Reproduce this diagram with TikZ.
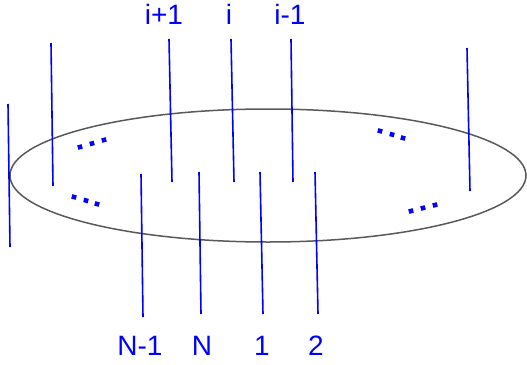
\documentclass[tikz,border=0pt]{standalone}
\usepackage{fontspec}
\setmainfont{Liberation Sans}
\begin{document}
\begin{tikzpicture}[x=1pt,y=-1pt,
  wire/.style={draw=blue,line width=1.6pt},
  ring/.style={draw=black!65,line width=1.5pt},
  lbl/.style={text=blue,font=\fontsize{28}{30}\selectfont,anchor=base,inner sep=0pt},
  dotsq/.style={fill=blue,draw=none,minimum size=4.6pt,inner sep=0pt,rectangle}]
\useasboundingbox (0,0) rectangle (527,364);
\draw[ring] (268,175.5) ellipse [x radius=258, y radius=66.5];
% wires
\draw[wire] (8,104) -- (10,247);
\draw[wire] (51,43) -- (53,186);
\draw[wire] (169,39) -- (172,182);
\draw[wire] (231,39) -- (234,182);
\draw[wire] (291,39) -- (293,182);
\draw[wire] (467,48) -- (470,191);
\draw[wire] (141,174) -- (143,317);
\draw[wire] (199,172) -- (201,314);
\draw[wire] (260,172) -- (263,314);
\draw[wire] (315,172) -- (318,314);
% labels
\node[lbl] (l1) at (164,24) {i+1};
\node[lbl] (l2) at (229,24) {i};
\node[lbl] (l3) at (290,24) {i-1};
\node[lbl] (b1) at (140,355) {N-1};
\node[lbl] (b2) at (202,355) {N};
\node[lbl] (b3) at (262,355) {1};
\node[lbl] (b4) at (316,355) {2};
% dots
\foreach \p/\r [count=\k] in {{(80,147)}/15,{(92,143.5)}/15,{(104,140)}/15,
  {(74,197)}/-15,{(86,200.5)}/-15,{(97,204)}/-15,
  {(380,131)}/-15,{(392,134.5)}/-15,{(403,138)}/-15,
  {(411,211)}/15,{(423,208)}/15,{(435,205)}/15}
  \node[dotsq,rotate=\r] (d\k) at \p {};
\end{tikzpicture}
\end{document}
